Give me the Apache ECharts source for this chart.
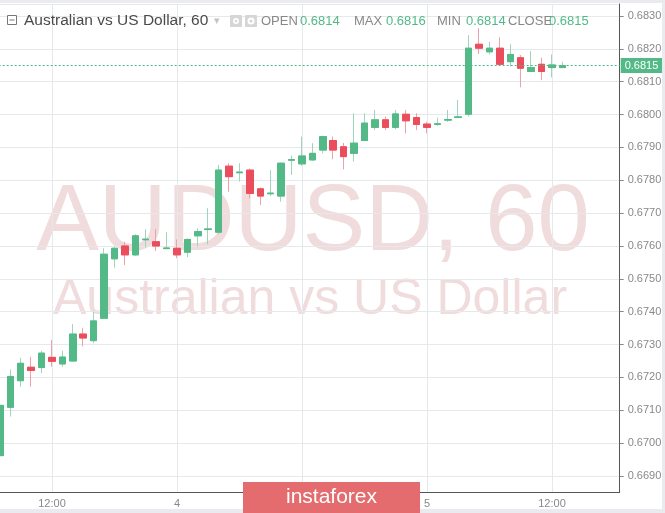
<!DOCTYPE html>
<html><head><meta charset="utf-8">
<script src="https://cdn.jsdelivr.net/npm/echarts@6/dist/echarts.min.js"></script>
<style>html,body{margin:0;padding:0;background:#fff}#c{width:665px;height:513px}</style>
</head><body><div id="c"></div><script>
// hourly categories: day 3 07:00 .. day 5 18:00
const categories = ['07:00','08:00','09:00','10:00','11:00','12:00','13:00','14:00','15:00','16:00','17:00','18:00','19:00','20:00','21:00','22:00','23:00',
 '4','01:00','02:00','03:00','04:00','05:00','06:00','07:00','08:00','09:00','10:00','11:00','12:00','13:00','14:00','15:00','16:00','17:00','18:00','19:00','20:00','21:00','22:00','23:00',
 '5','01:00','02:00','03:00','04:00','05:00','06:00','07:00','08:00','09:00','10:00','11:00','12:00','13:00','14:00','15:00','16:00','17:00','18:00'];
const tickLabels = ['12:00','4','5'];
const openVals  = [0.66962,0.67109,0.67190,0.67231,0.67230,0.67261,0.67241,0.67250,0.67332,0.67312,0.67380,0.67561,0.67600,0.67573,0.67619,0.67613,0.67592,0.67593,0.67581,0.67631,0.67650,0.67642,0.67843,0.67823,0.67831,0.67774,0.67759,0.67752,0.67861,0.67850,0.67862,0.67892,0.67921,0.67902,0.67882,0.67921,0.67961,0.67984,0.67961,0.68001,0.67991,0.67971,0.67970,0.67983,0.67991,0.68001,0.68214,0.68191,0.68202,0.68161,0.68173,0.68131,0.68153,0.68143,0.68143];
const closeVals = [0.67115,0.67203,0.67243,0.67221,0.67274,0.67249,0.67262,0.67332,0.67320,0.67372,0.67575,0.67593,0.67573,0.67631,0.67621,0.67600,0.67594,0.67573,0.67620,0.67644,0.67652,0.67831,0.67811,0.67825,0.67760,0.67752,0.67761,0.67852,0.67863,0.67874,0.67882,0.67933,0.67892,0.67872,0.67913,0.67974,0.67984,0.67961,0.68002,0.67981,0.67970,0.67961,0.67972,0.67985,0.67993,0.68202,0.68202,0.68202,0.68153,0.68183,0.68141,0.68143,0.68131,0.68151,0.68149];
const lowVals   = [0.66955,0.67081,0.67172,0.67172,0.67213,0.67233,0.67233,0.67248,0.67294,0.67304,0.67378,0.67534,0.67542,0.67570,0.67596,0.67585,0.67591,0.67563,0.67566,0.67598,0.67605,0.67636,0.67765,0.67796,0.67745,0.67725,0.67752,0.67735,0.67816,0.67844,0.67859,0.67882,0.67864,0.67833,0.67857,0.67919,0.67953,0.67953,0.67955,0.67943,0.67953,0.67943,0.67965,0.67978,0.67989,0.67994,0.68184,0.68183,0.68151,0.68146,0.68083,0.68129,0.68105,0.68113,0.68142];
const highVals  = [0.67131,0.67224,0.67259,0.67263,0.67281,0.67314,0.67281,0.67362,0.67350,0.67400,0.67593,0.67598,0.67613,0.67636,0.67651,0.67652,0.67642,0.67620,0.67622,0.67654,0.67715,0.67847,0.67852,0.67852,0.67836,0.67778,0.67831,0.67854,0.67875,0.67933,0.67913,0.67936,0.67933,0.67914,0.68004,0.68004,0.68014,0.67994,0.68014,0.68014,0.68004,0.67978,0.67991,0.68014,0.68044,0.68242,0.68263,0.68222,0.68235,0.68214,0.68181,0.68193,0.68173,0.68183,0.68161];
const header = {title:'Australian vs US Dollar, 60', open:'0.6814', max:'0.6816', min:'0.6814', close:'0.6815'};
const yMin = 0.668513, yMax = 0.683365;

const upColor = '#53b987', downColor = '#eb4d5c';
const upWick = '#9fd6bb', downWick = '#f0a0a8';
const lastClose = closeVals[closeVals.length - 1];
const fullData = openVals.map((o, i) => [o, closeVals[i], lowVals[i], highVals[i]]);
const bodyData = openVals.map((o, i) => [o, closeVals[i], Math.min(o, closeVals[i]), Math.max(o, closeVals[i])]);
const isKey = v => tickLabels.indexOf(v) >= 0;
const FONT = '"Liberation Sans", Arial, sans-serif';

const chart = echarts.init(document.getElementById('c'));
chart.setOption({
  animation: false,
  backgroundColor: '#ffffff',
  grid: {left: -5.3, right: 45.3, top: 4, bottom: 21, outerBoundsMode: 'none', containLabel: false},
  xAxis: {
    type: 'category', data: categories, boundaryGap: true,
    axisLine: {lineStyle: {color: '#555', width: 1}},
    axisTick: {show: false},
    axisLabel: {interval: (i, v) => isKey(v), color: '#888', fontSize: 11, fontFamily: FONT, margin: 6},
    splitLine: {show: true, interval: (i, v) => isKey(v), alignWithLabel: true, lineStyle: {color: '#e6e9ec'}}
  },
  yAxis: {
    type: 'value', position: 'right', min: yMin, max: yMax, splitNumber: 15,
    minInterval: 0.001, maxInterval: 0.001,
    axisLine: {show: true, lineStyle: {color: '#555'}},
    axisTick: {show: true, length: 4, lineStyle: {color: '#888'}},
    axisLabel: {color: '#888', fontSize: 11, fontFamily: FONT, margin: 8, showMinLabel: false, showMaxLabel: false,
      formatter: v => Math.abs(v * 1000 - Math.round(v * 1000)) < 1e-6 ? v.toFixed(4) : ''},
    splitLine: {lineStyle: {color: '#e6e9ec'}}
  },
  series: [
    {type: 'candlestick', data: fullData, barWidth: 7, z: 3,
     itemStyle: {color: upWick, color0: downWick, borderColor: upWick, borderColor0: downWick, borderWidth: 1}},
    {type: 'candlestick', data: bodyData, barWidth: 7, z: 4,
     itemStyle: {color: upColor, color0: downColor, borderColor: upColor, borderColor0: downColor, borderWidth: 1}},
    {type: 'line', data: [], z: 5, silent: true,
     markLine: {silent: true, symbol: 'none', z: 5, animation: false, precision: 6,
       lineStyle: {color: upColor, type: [2, 2], width: 1},
       label: {show: true, position: 'end', formatter: lastClose.toFixed(4), backgroundColor: upColor, color: '#fff',
               padding: [2, 4, 2, 4], fontSize: 11, fontFamily: FONT, distance: 1},
       data: [{yAxis: lastClose}]}}
  ],
  graphic: [
    {type: 'text', z: -1, style: {x: 313, y: 224, text: 'AUDUSD, 60', font: '94px ' + FONT, fill: '#f0dcdc', textAlign: 'center', textVerticalAlign: 'middle'}},
    {type: 'text', z: -1, style: {x: 310, y: 300, text: 'Australian vs US Dollar', font: '50px ' + FONT, fill: '#f0dcdc', textAlign: 'center', textVerticalAlign: 'middle'}},
    // frame
    {type: 'rect', z: 50, shape: {x: 0, y: 0, width: 665, height: 3}, style: {fill: '#e9ebee'}},
    {type: 'rect', z: 50, shape: {x: 0, y: 509, width: 665, height: 4}, style: {fill: '#e9ebee'}},
    {type: 'rect', z: 50, shape: {x: 662, y: 0, width: 3, height: 513}, style: {fill: '#e9ebee'}},
    // header
    {type: 'rect', z: 60, shape: {x: 7.5, y: 15.5, width: 9, height: 9}, style: {fill: '#fff', stroke: '#777', lineWidth: 1}},
    {type: 'line', z: 61, shape: {x1: 9.5, y1: 20, x2: 14.5, y2: 20}, style: {stroke: '#777', lineWidth: 1}},
    {type: 'text', z: 60, style: {x: 24, y: 21, text: header.title, font: '15.5px ' + FONT, fill: '#4a4a4a', textVerticalAlign: 'middle'}},
    {type: 'text', z: 60, style: {x: 214, y: 21, text: '▾', font: '11px "DejaVu Sans"', fill: '#c4c4c4', textVerticalAlign: 'middle'}},
    {type: 'rect', z: 60, shape: {x: 230, y: 15, width: 12, height: 12, r: 1}, style: {fill: '#d6d6d6'}},
    {type: 'circle', z: 61, shape: {cx: 236, cy: 21, r: 3}, style: {fill: '#fff'}},
    {type: 'circle', z: 62, shape: {cx: 236, cy: 21, r: 1.3}, style: {fill: '#d6d6d6'}},
    {type: 'rect', z: 60, shape: {x: 245, y: 15, width: 12, height: 12, r: 1}, style: {fill: '#d6d6d6'}},
    {type: 'circle', z: 61, shape: {cx: 251, cy: 21, r: 3.5}, style: {fill: '#fff'}},
    {type: 'circle', z: 62, shape: {cx: 251, cy: 21, r: 1.5}, style: {fill: '#d6d6d6'}},
    {type: 'text', z: 60, style: {x: 261, y: 21, text: 'OPEN', font: '13px ' + FONT, fill: '#888', textVerticalAlign: 'middle'}},
    {type: 'text', z: 60, style: {x: 300, y: 21, text: header.open, font: '13px ' + FONT, fill: upColor, textVerticalAlign: 'middle'}},
    {type: 'text', z: 60, style: {x: 354, y: 21, text: 'MAX', font: '13px ' + FONT, fill: '#888', textVerticalAlign: 'middle'}},
    {type: 'text', z: 60, style: {x: 386, y: 21, text: header.max, font: '13px ' + FONT, fill: upColor, textVerticalAlign: 'middle'}},
    {type: 'text', z: 60, style: {x: 437, y: 21, text: 'MIN', font: '13px ' + FONT, fill: '#888', textVerticalAlign: 'middle'}},
    {type: 'text', z: 60, style: {x: 466, y: 21, text: header.min, font: '13px ' + FONT, fill: upColor, textVerticalAlign: 'middle'}},
    {type: 'text', z: 60, style: {x: 508, y: 21, text: 'CLOSE', font: '13px ' + FONT, fill: '#888', textVerticalAlign: 'middle'}},
    {type: 'text', z: 60, style: {x: 549, y: 21, text: header.close, font: '13px ' + FONT, fill: upColor, textVerticalAlign: 'middle'}},
    // instaforex badge
    {type: 'rect', z: 70, shape: {x: 243, y: 482, width: 177, height: 31}, style: {fill: '#e46b6e'}},
    {type: 'text', z: 71, style: {x: 331.5, y: 497, text: 'instaforex', font: '21px ' + FONT, fill: '#fff', textAlign: 'center', textVerticalAlign: 'middle'}}
  ]
});
</script></body></html>
